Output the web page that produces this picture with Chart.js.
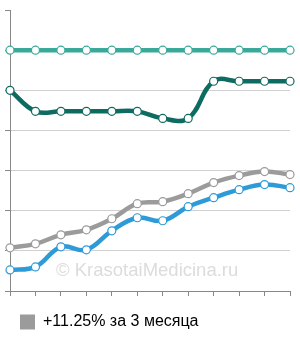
<!DOCTYPE html>
<html>
<head>
<meta charset="utf-8">
<script src="https://cdn.jsdelivr.net/npm/chart.js@4"></script>
<style>
  html, body { margin: 0; padding: 0; background: #fff; }
  #wrap { position: relative; width: 300px; height: 340px; }
</style>
</head>
<body>
<div id="wrap"><canvas id="chart" width="300" height="340"></canvas></div>
<script>
const labels = ['1', '2', '3', '4', '5', '6', '7', '8', '9', '10', '11', '12'];
const flatLine = [6, 6, 6, 6, 6, 6, 6, 6, 6, 6, 6, 6];
const darkLine = [5, 4.475, 4.475, 4.475, 4.475, 4.475, 4.3, 4.3, 5.225, 5.225, 5.225, 5.225];
const grayLine = [1.075, 1.175, 1.4, 1.525, 1.8, 2.175, 2.225, 2.425, 2.7, 2.875, 2.975, 2.9];
const blueLine = [0.525, 0.6, 1.1, 1.025, 1.5, 1.825, 1.75, 2.1, 2.325, 2.525, 2.65, 2.575];
const legendText = '+11.25% за 3 месяца';

const COLORS = {
    flat: '#3aa99a',
    dark: '#0e6b61',
    gray: '#9b9b9b',
    blue: '#2e9bd8'
};

function series(data, color, label) {
    return {
        label: label,
        data: data,
        borderColor: color,
        borderWidth: 4.5,
        tension: 0.4,
        pointRadius: 4,
        pointBackgroundColor: '#fff',
        pointBorderColor: color,
        pointBorderWidth: 1.2
    };
}

const watermark = {
    id: 'watermark',
    beforeDatasetsDraw(chart) {
        const ctx = chart.ctx;
        ctx.save();
        ctx.font = '18.5px "Liberation Sans", Arial, sans-serif';
        ctx.fillStyle = '#dcdcdc';
        ctx.textBaseline = 'alphabetic';
        ctx.fillText('© KrasotaiMedicina.ru', 56, 276);
        ctx.restore();
    }
};

new Chart(document.getElementById('chart'), {
    type: 'line',
    data: {
        labels: labels,
        datasets: [
            series(flatLine, COLORS.flat, 'a'),
            series(darkLine, COLORS.dark, 'b'),
            series(blueLine, COLORS.blue, 'c'),
            series(grayLine, COLORS.gray, legendText)
        ]
    },
    options: {
        responsive: false,
        animation: false,
        layout: { padding: { left: 5, right: 10, top: 10, bottom: 0 } },
        plugins: {
            tooltip: { enabled: false },
            legend: {
                position: 'bottom',
                align: 'start',
                labels: {
                    boxWidth: 15,
                    boxHeight: 15,
                    color: '#222',
                    padding: 15,
                    font: { size: 16, family: '"Liberation Sans", Arial, sans-serif' },
                    generateLabels(chart) {
                        return [{
                            text: legendText,
                            fillStyle: COLORS.gray,
                            strokeStyle: COLORS.gray,
                            lineWidth: 0,
                            datasetIndex: 3
                        }];
                    }
                }
            }
        },
        scales: {
            x: {
                offset: false,
                grid: { display: true, drawOnChartArea: false, tickLength: 5, color: '#888' },
                border: { color: '#888' },
                ticks: { display: false },
                afterFit(scale) { scale.height += 3; }
            },
            y: {
                min: 0,
                max: 7,
                ticks: { display: false, stepSize: 1 },
                grid: {
                    tickLength: 5,
                    color: ctx => ctx.tick && ctx.tick.value === 7 ? 'rgba(0,0,0,0)' : '#d0d0d0',
                    tickColor: '#888'
                },
                border: { color: '#888' }
            }
        }
    },
    plugins: [watermark]
});
</script>
</body>
</html>
